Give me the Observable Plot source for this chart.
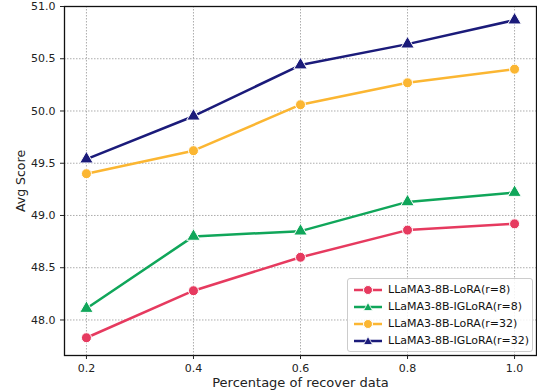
<!DOCTYPE html>
<html><head><meta charset="utf-8">
<script src="https://cdn.jsdelivr.net/npm/d3@7"></script>
<script src="https://cdn.jsdelivr.net/npm/@observablehq/plot@0.6"></script>
<style>
body{margin:0;background:#fff;font-family:"DejaVu Sans",sans-serif;}
#wrap{position:relative;width:537px;height:392px;}
#legend{position:absolute;left:347px;top:278px;width:184px;border:1px solid #ccc;border-radius:3px;background:rgba(255,255,255,0.85);font-size:11px;color:#111;padding:2px 0;}
#legend .row{display:flex;align-items:center;height:17px;}
#legend svg{margin:0 6px 0 6px;}
</style>
</head><body><div id="wrap"><div id="chart"></div><div id="legend"></div></div>
<script>
const xs = [0.2, 0.4, 0.6, 0.8, 1.0];
const series = ["LLaMA3-8B-LoRA(r=8)", "LLaMA3-8B-IGLoRA(r=8)", "LLaMA3-8B-LoRA(r=32)", "LLaMA3-8B-IGLoRA(r=32)"];
const lora8 = [47.83, 48.28, 48.60, 48.86, 48.92];
const iglora8 = [48.11, 48.80, 48.85, 49.13, 49.22];
const lora32 = [49.40, 49.62, 50.06, 50.27, 50.40];
const iglora32 = [49.54, 49.95, 50.44, 50.64, 50.87];
const colors = ["#e63a5f", "#10a65a", "#fbb632", "#1b1b7a"];
const symbols = ["circle", "triangle", "circle", "triangle"];
const xTicks = [0.2, 0.4, 0.6, 0.8, 1.0];
const yTicks = [48.0, 48.5, 49.0, 49.5, 50.0, 50.5, 51.0];
const xLabel = "Percentage of recover data";
const yLabel = "Avg Score";

const allVals = [lora8, iglora8, lora32, iglora32];
const data = [];
allVals.forEach((vals, i) => vals.forEach((v, j) => data.push({series: series[i], x: xs[j], y: v})));

const chart = Plot.plot({
  width: 537, height: 392,
  marginLeft: 64, marginRight: 1, marginTop: 6, marginBottom: 37,
  style: {fontFamily: "DejaVu Sans, sans-serif", fontSize: "11px", color: "#222"},
  x: {domain: [0.159, 1.041]},
  y: {domain: [47.66, 51.0]},
  color: {domain: series, range: colors},
  symbol: {domain: series, range: symbols},
  marks: [
    Plot.gridX(xTicks, {stroke: "#999", strokeOpacity: 0.8, strokeDasharray: "1.5,1.5"}),
    Plot.gridY(yTicks, {stroke: "#999", strokeOpacity: 0.8, strokeDasharray: "1.5,1.5"}),
    Plot.line(data, {x: "x", y: "y", z: "series", stroke: "series", strokeWidth: 2.5}),
    Plot.dot(data, {x: "x", y: "y", symbol: "series", fill: "series", stroke: "white", strokeWidth: 1, r: 5}),
    Plot.frame({stroke: "#111", strokeWidth: 1.3}),
    Plot.axisX({ticks: xTicks, tickFormat: d3.format(".1f"), tickSize: 4, label: xLabel, labelArrow: false, labelAnchor: "center", labelOffset: 31, fontSize: 11}),
    Plot.axisY({ticks: yTicks, tickFormat: d3.format(".1f"), tickSize: 4, label: yLabel, labelArrow: false, labelAnchor: "center", labelOffset: 48, fontSize: 11})
  ]
});
chart.querySelectorAll("text").forEach(t => {
  const s = t.textContent.replace(/[\u2190-\u2193]/g, "").trim();
  if (s === xLabel) { t.textContent = s; t.setAttribute("font-size", "13"); t.style.fontSize = "13px"; }
  if (s === yLabel) { t.textContent = s; t.setAttribute("font-size", "12.5"); t.style.fontSize = "12.5px"; }
});
document.getElementById("chart").appendChild(chart);

const leg = document.getElementById("legend");
series.forEach((s, i) => {
  const row = document.createElement("div");
  row.className = "row";
  const mk = symbols[i] === "circle"
    ? `<circle cx="14" cy="6" r="4.5" fill="${colors[i]}" stroke="white" stroke-width="1"/>`
    : `<path d="M14,1.5 L18.5,9.5 L9.5,9.5 Z" fill="${colors[i]}" stroke="white" stroke-width="0.8"/>`;
  row.innerHTML = `<svg width="28" height="12"><line x1="0" y1="6" x2="28" y2="6" stroke="${colors[i]}" stroke-width="2.5"/>${mk}</svg><span>${s}</span>`;
  leg.appendChild(row);
});
</script></body></html>
